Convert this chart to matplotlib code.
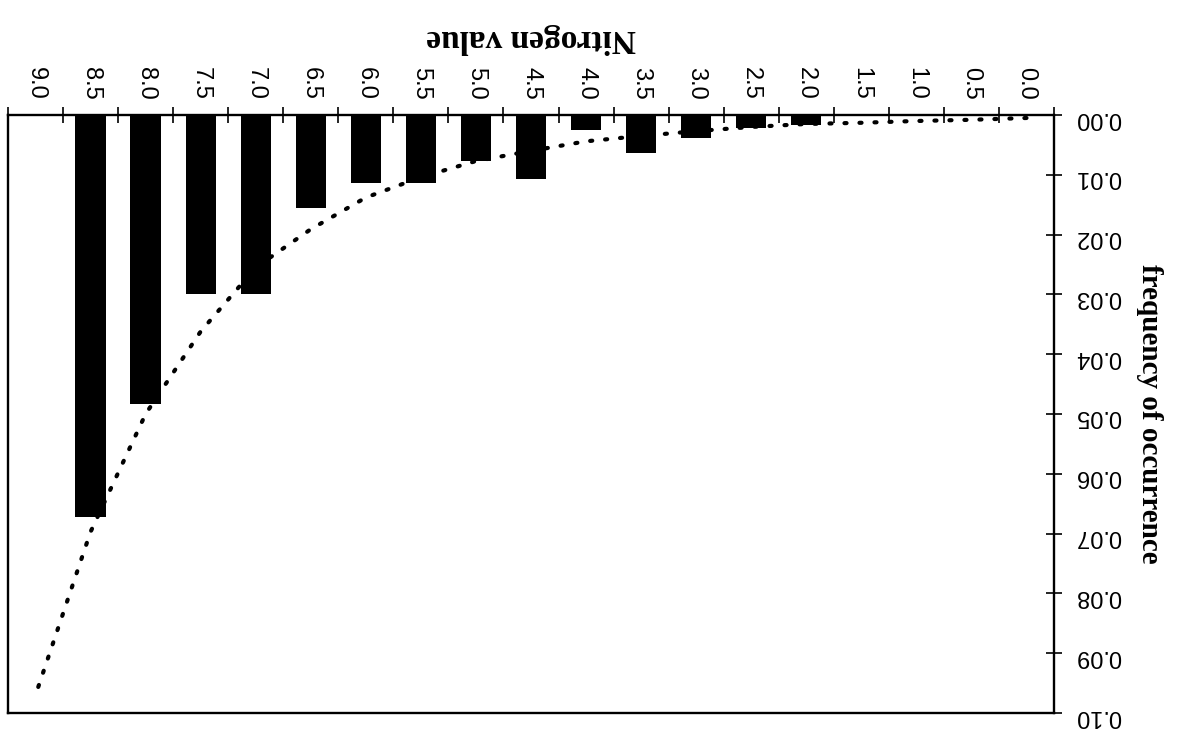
import matplotlib
matplotlib.use("Agg")
import matplotlib.pyplot as plt
from matplotlib.ticker import FixedLocator, FuncFormatter, NullFormatter

# Nitrogen value classes (0.0 .. 9.0 in steps of 0.5)
nitrogen_labels = ["0.0", "0.5", "1.0", "1.5", "2.0", "2.5", "3.0", "3.5", "4.0",
                   "4.5", "5.0", "5.5", "6.0", "6.5", "7.0", "7.5", "8.0", "8.5", "9.0"]

# observed frequency of occurrence per class
observed_freq = [0.0, 0.0, 0.0, 0.0, 0.0016, 0.0022, 0.0039, 0.0063, 0.0025,
                 0.0107, 0.0077, 0.0114, 0.0114, 0.0156, 0.0300, 0.0300, 0.0484,
                 0.0672, 0.0]

# fitted curve value per class
fitted_freq = [0.0005, 0.0008, 0.0010, 0.0013, 0.0015, 0.0020, 0.0027, 0.0035, 0.0044,
               0.0060, 0.0077, 0.0104, 0.0138, 0.0191, 0.0255, 0.0362, 0.0500,
               0.0697, 0.0970]

y_ticks = [0.00, 0.01, 0.02, 0.03, 0.04, 0.05, 0.06, 0.07, 0.08, 0.09, 0.10]

W, H = 1181, 733
fig = plt.figure(figsize=(W / 100, H / 100), dpi=100)
ax = fig.add_axes([8 / W, 1 - 713 / H, (1054 - 8) / W, (713 - 115) / H])

idx = list(range(len(nitrogen_labels)))
ax.bar(idx, observed_freq, width=0.55, color="black", zorder=2)
ax.plot(idx, fitted_freq, color="black", lw=3.0, dashes=(0.5, 3.1),
        dash_capstyle="round", zorder=3)

# upside-down orientation: 0.0 on the right, frequency growing downwards
ax.set_xlim(len(idx) - 0.5, -0.5)
ax.set_ylim(0.10, 0.0)

ax.xaxis.tick_top()
ax.xaxis.set_label_position("top")
ax.yaxis.tick_right()
ax.yaxis.set_label_position("right")

ax.xaxis.set_major_locator(FixedLocator(idx))
ax.xaxis.set_minor_locator(FixedLocator([i - 0.5 for i in range(len(idx) + 1)]))
ax.set_xticklabels(nitrogen_labels, rotation=-90, fontsize=17,
                   fontfamily="Liberation Sans", va="bottom", ha="center")
ax.xaxis.set_minor_formatter(NullFormatter())
ax.tick_params(axis="x", which="major", length=0, pad=11)
ax.tick_params(axis="x", which="minor", direction="inout", length=11, width=1.2)

ax.yaxis.set_major_locator(FixedLocator(y_ticks))
ax.yaxis.set_major_formatter(FuncFormatter(lambda v, p: f"{v:.2f}"))
for lab in ax.get_yticklabels():
    lab.set_rotation(180)
    lab.set_fontsize(17)
    lab.set_fontfamily("Liberation Sans")
ax.tick_params(axis="y", which="major", direction="inout", length=11, width=1.2, pad=10)

ax.set_xlabel("Nitrogen value", rotation=180, fontsize=24, fontweight="bold",
              fontfamily="Liberation Serif", labelpad=14)
ax.set_ylabel("frequency of occurrence", rotation=-90, fontsize=21, fontweight="bold",
              fontfamily="Liberation Serif", labelpad=20, va="center")

for s in ax.spines.values():
    s.set_linewidth(1.7)
    s.set_color("black")

fig.savefig("out.png", dpi=100)
